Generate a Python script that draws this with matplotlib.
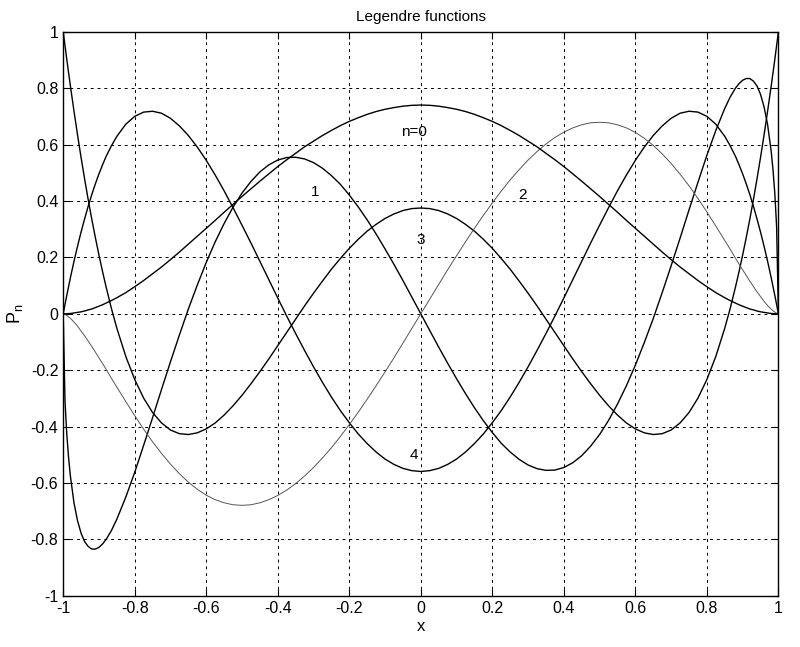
import numpy as np
import matplotlib
matplotlib.use("Agg")
import matplotlib.pyplot as plt

# values, positive half of x (curves are even/odd)
x_half = [0.0, 0.025, 0.05, 0.075, 0.1, 0.125, 0.15, 0.175, 0.2, 0.225, 0.25,
          0.275, 0.3, 0.325, 0.35, 0.375, 0.4, 0.425, 0.45, 0.475, 0.5, 0.525,
          0.55, 0.575, 0.6, 0.625, 0.65, 0.675, 0.7, 0.725, 0.75, 0.775, 0.8,
          0.825, 0.85, 0.865, 0.88, 0.89, 0.9, 0.91, 0.92, 0.93, 0.94, 0.95,
          0.96, 0.97, 0.98, 0.985, 0.99, 0.995, 1.0]

# label "3" curve (even, 1 at the ends)
p0_half = [0.375, 0.373, 0.366, 0.354, 0.338, 0.317, 0.293, 0.264, 0.232, 0.196,
           0.158, 0.116, 0.073, 0.028, -0.019, -0.066, -0.113, -0.160, -0.205,
           -0.248, -0.289, -0.326, -0.359, -0.387, -0.408, -0.422, -0.428, -0.425,
           -0.412, -0.387, -0.350, -0.299, -0.233, -0.151, -0.051, 0.018, 0.095,
           0.150, 0.208, 0.270, 0.335, 0.404, 0.477, 0.554, 0.635, 0.720, 0.809,
           0.855, 0.902, 0.951, 1.0]
# label "1" curve (odd)
p1_half = [0.0, -0.059, -0.118, -0.175, -0.230, -0.283, -0.333, -0.379, -0.421,
           -0.459, -0.490, -0.516, -0.536, -0.549, -0.555, -0.554, -0.545, -0.528,
           -0.503, -0.469, -0.428, -0.378, -0.320, -0.255, -0.182, -0.102, -0.017,
           0.075, 0.170, 0.268, 0.368, 0.466, 0.562, 0.650, 0.728, 0.768, 0.800,
           0.816, 0.828, 0.834, 0.834, 0.825, 0.808, 0.778, 0.733, 0.669, 0.574,
           0.509, 0.426, 0.309, 0.0]
# label "4" curve (even)
p2_half = [-0.559, -0.556, -0.548, -0.534, -0.515, -0.490, -0.460, -0.426, -0.386,
           -0.343, -0.295, -0.243, -0.188, -0.130, -0.070, -0.008, 0.056, 0.121,
           0.186, 0.251, 0.314, 0.376, 0.436, 0.492, 0.544, 0.591, 0.632, 0.666,
           0.693, 0.711, 0.718, 0.715, 0.700, 0.672, 0.629, 0.596, 0.558, 0.528,
           0.496, 0.461, 0.423, 0.382, 0.337, 0.290, 0.239, 0.185, 0.127, 0.096,
           0.065, 0.033, 0.0]
# label "2" curve (odd, thin grey)
p3_half = [0.0, 0.052, 0.104, 0.156, 0.206, 0.255, 0.303, 0.349, 0.393, 0.435,
           0.475, 0.511, 0.545, 0.575, 0.602, 0.625, 0.644, 0.659, 0.670, 0.677,
           0.679, 0.677, 0.670, 0.659, 0.643, 0.622, 0.597, 0.567, 0.533, 0.495,
           0.454, 0.409, 0.361, 0.311, 0.260, 0.229, 0.197, 0.176, 0.156, 0.136,
           0.116, 0.097, 0.078, 0.061, 0.044, 0.029, 0.016, 0.011, 0.006, 0.002, 0.0]
# label "n=0" curve (even)
p4_half = [0.740, 0.739, 0.736, 0.731, 0.725, 0.717, 0.707, 0.695, 0.682, 0.667,
           0.650, 0.632, 0.612, 0.592, 0.569, 0.546, 0.522, 0.496, 0.470, 0.443,
           0.416, 0.388, 0.360, 0.331, 0.303, 0.275, 0.247, 0.219, 0.192, 0.166,
           0.142, 0.118, 0.096, 0.075, 0.057, 0.047, 0.038, 0.032, 0.027, 0.022,
           0.017, 0.014, 0.010, 0.007, 0.005, 0.003, 0.001, 0.001, 0.0, 0.0, 0.0]

xticks = [-1, -0.8, -0.6, -0.4, -0.2, 0, 0.2, 0.4, 0.6, 0.8, 1]
xtick_labels = ["-1", "-0.8", "-0.6", "-0.4", "-0.2", "0", "0.2", "0.4", "0.6", "0.8", "1"]
yticks = [-1, -0.8, -0.6, -0.4, -0.2, 0, 0.2, 0.4, 0.6, 0.8, 1]
ytick_labels = ["-1", "-0.8", "-0.6", "-0.4", "-0.2", "0", "0.2", "0.4", "0.6", "0.8", "1"]

labels = ["n=0", "1", "2", "3", "4"]
label_x = [-0.02, -0.295, 0.285, 0.0, -0.02]
label_y = [0.645, 0.43, 0.42, 0.26, -0.5]


def full_even(h):
    return np.array(h[:0:-1] + h)


def full_odd(h):
    return np.array([-v for v in h[:0:-1]] + h)


x = np.array([-v for v in x_half[:0:-1]] + x_half)
p0 = full_even(p0_half)
p1 = full_odd(p1_half)
p2 = full_even(p2_half)
p3 = full_odd(p3_half)
p4 = full_even(p4_half)

plt.rcParams['font.family'] = ['Liberation Sans', 'DejaVu Sans']

fig = plt.figure(figsize=(8, 6.47), dpi=100)
ax = fig.add_axes([0.079, 0.079, 0.894, 0.872])

ax.plot(x, p0, color='black', lw=1.0)
ax.plot(x, p1, color='black', lw=1.0)
ax.plot(x, p2, color='black', lw=1.0)
ax.plot(x, p3, color='#555555', lw=0.7)
ax.plot(x, p4, color='black', lw=1.0)

for t, tx, ty in zip(labels, label_x, label_y):
    ax.text(tx, ty, t, ha='center', va='center', fontsize=11)

ax.set_xlim(-1, 1)
ax.set_ylim(-1, 1)
ax.set_xticks(xticks)
ax.set_xticklabels(xtick_labels)
ax.set_yticks(yticks)
ax.set_yticklabels(ytick_labels)
ax.tick_params(direction='in', top=True, right=True, labelsize=11.5, length=5)
ax.grid(True, color='black', linestyle=(0, (3, 4)), lw=0.7)
for s in ax.spines.values():
    s.set_linewidth(1.0)

ax.set_title("Legendre functions", fontsize=11, pad=8)
ax.set_xlabel("x", fontsize=12, labelpad=2)
ax.set_ylabel("$\\mathregular{P_n}$", fontsize=13, labelpad=4)

fig.savefig("out.png", dpi=100)
